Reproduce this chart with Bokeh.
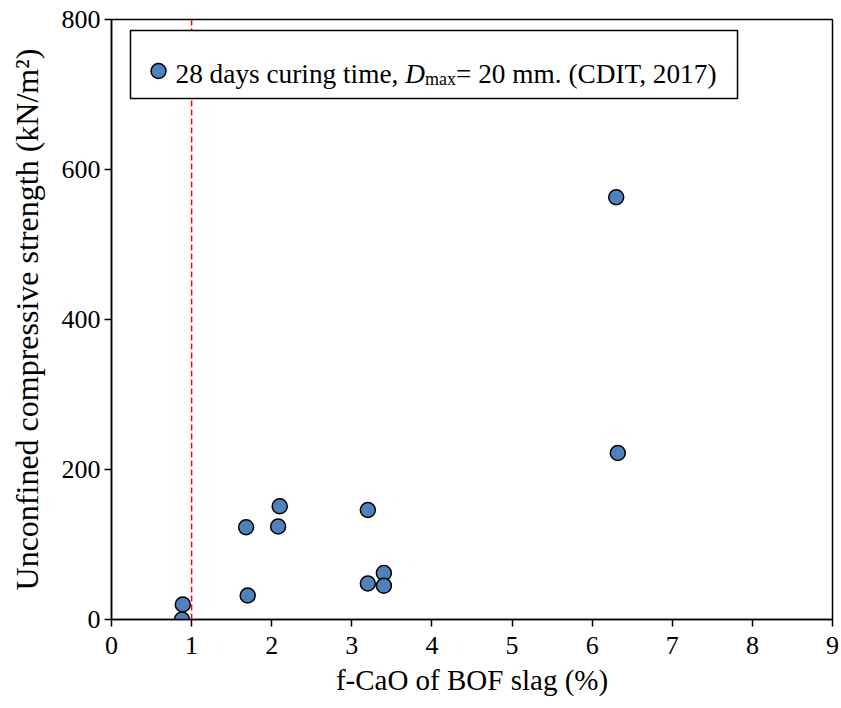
from bokeh.plotting import figure
from bokeh.models import Range1d, FixedTicker
from bokeh.core.properties import value
from bokeh.embed import file_html
from bokeh.resources import INLINE

# ---- data ----
fcao = [0.88, 0.89, 1.68, 1.70, 2.08, 2.10, 3.20, 3.20, 3.40, 3.40, 6.30, 6.32]
ucs = [0, 20, 123, 32, 124, 151, 146, 48, 62, 45, 563, 222]
ref_x = [1, 1]
ref_y = [0, 800]
x_ticks = [0, 1, 2, 3, 4, 5, 6, 7, 8, 9]
y_ticks = [0, 200, 400, 600, 800]
legend_parts = ["28 days curing time, ", "D", "max", "= 20 mm. (CDIT, 2017)"]

FONT = "Liberation Serif"
FL, FT, FW, FH = 111, 19, 721, 600
XMAX, YMAX = 9, 800

p = figure(width=841, height=708, frame_width=FW, frame_height=FH,
           x_range=Range1d(0, XMAX), y_range=Range1d(0, YMAX),
           output_backend="svg", toolbar_location=None,
           min_border_left=FL, min_border_top=FT, min_border_right=9, min_border_bottom=89)
p.background_fill_color = "white"
p.border_fill_color = "white"
p.xgrid.visible = False
p.ygrid.visible = False
p.outline_line_color = "black"
p.outline_line_width = 1.5

for ax in (p.xaxis[0], p.yaxis[0]):
    ax.axis_line_color = "black"
    ax.axis_line_width = 1.5
    ax.major_tick_line_color = "black"
    ax.major_tick_line_width = 1.5
    ax.minor_tick_line_color = None
    ax.major_tick_in = 0
    ax.major_tick_out = 7
    ax.major_label_text_color = "black"
    ax.major_label_text_font = FONT
    ax.major_label_text_font_size = "26px"
    ax.axis_label_text_font = FONT
    ax.axis_label_text_font_style = "normal"
    ax.axis_label_text_color = "black"

p.xaxis.axis_label_text_font_size = "29px"
p.yaxis.axis_label_text_font_size = "32px"

p.xaxis.ticker = FixedTicker(ticks=x_ticks)
p.yaxis.ticker = FixedTicker(ticks=y_ticks)
p.xaxis.major_label_standoff = 10
p.yaxis.major_label_standoff = 4
p.xaxis.axis_label = "f-CaO of BOF slag (%)"
p.yaxis.axis_label = "Unconfined compressive strength (kN/m\u00b2)"
p.xaxis.axis_label_standoff = 7
p.yaxis.axis_label_standoff = 14

# reference line
p.line(ref_x, ref_y, line_color="#FF0000", line_width=1.5, line_dash="6 3")

# data points
p.scatter(fcao, ucs, marker="circle", size=15, fill_color="#4F81BD",
          line_color="black", line_width=1.5)

# ---- manual legend (pixel placement converted to data space) ----
def dx(px):
    return (px - FL) / FW * XMAX

def dy(py):
    return (FT + FH - py) / FH * YMAX

LG_L, LG_R, LG_T, LG_B = 130, 737, 30, 98
p.quad(left=[dx(LG_L)], right=[dx(LG_R)], top=[dy(LG_T)], bottom=[dy(LG_B)],
       fill_color="white", line_color="black", line_width=1.5)
p.scatter([dx(158)], [dy(70.5)], marker="circle", size=15, fill_color="#4F81BD",
          line_color="black", line_width=1.5)

FS = 27.3
base = 73.5
x1 = 175
x2 = x1 + 8.416 * FS
x3 = x2 + 0.722 * FS
sub_fs = 18
x4 = x3 + 1.722 * sub_fs
p.text([dx(x1)], [dy(base)], text=[legend_parts[0]], text_font=value(FONT),
       text_font_size=f"{FS}px", text_baseline="alphabetic", text_align="left", text_color="black")
p.text([dx(x2)], [dy(base)], text=[legend_parts[1]], text_font=value(FONT),
       text_font_size=f"{FS}px", text_font_style="italic", text_baseline="alphabetic",
       text_align="left", text_color="black")
p.text([dx(x3)], [dy(base + 5)], text=[legend_parts[2]], text_font=value(FONT),
       text_font_size=f"{sub_fs}px", text_baseline="alphabetic", text_align="left", text_color="black")
p.text([dx(x4)], [dy(base)], text=[legend_parts[3]], text_font=value(FONT),
       text_font_size=f"{FS}px", text_baseline="alphabetic", text_align="left", text_color="black")

open("out.html", "w").write(file_html(p, INLINE))
